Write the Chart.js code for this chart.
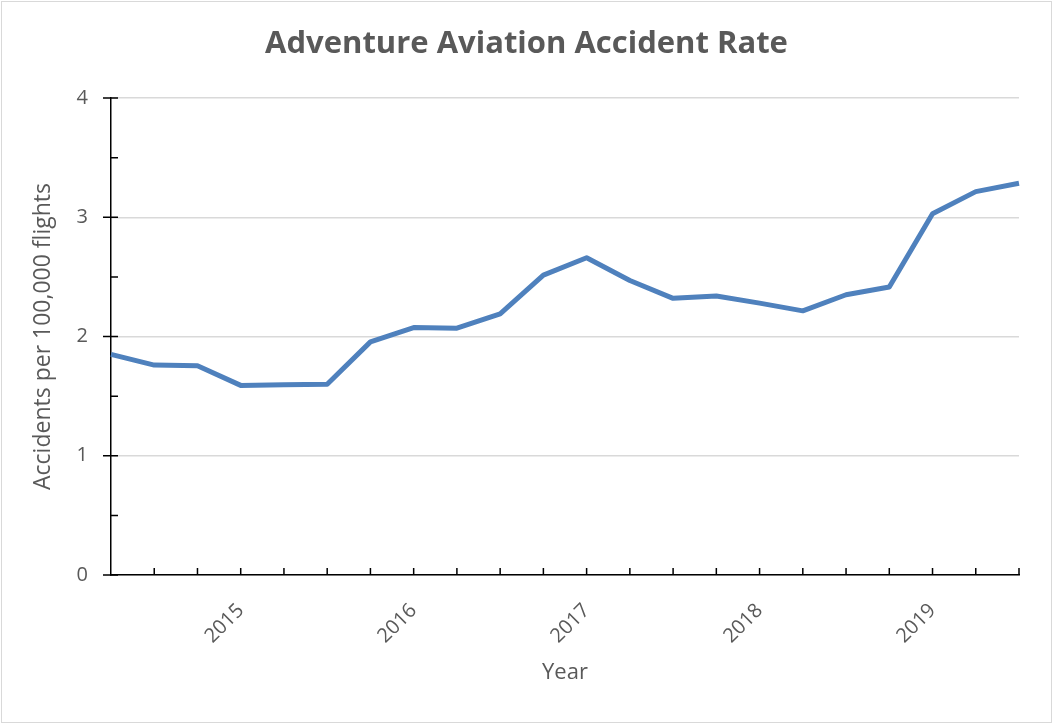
<!DOCTYPE html>
<html>
<head>
<meta charset="utf-8">
<script src="https://cdn.jsdelivr.net/npm/chart.js@4/dist/chart.umd.min.js"></script>
<style>
  html, body { margin: 0; padding: 0; background: #fff; }
  #wrap { width: 1053px; height: 724px; }
</style>
</head>
<body>
<div id="wrap"><canvas id="lineChart" width="1053" height="724"></canvas></div>
<script>
// Quarterly data, 2014 Q2 to 2019 Q3
const quarters = [
  "2014 Q2", "2014 Q3", "2014 Q4",
  "2015 Q1", "2015 Q2", "2015 Q3", "2015 Q4",
  "2016 Q1", "2016 Q2", "2016 Q3", "2016 Q4",
  "2017 Q1", "2017 Q2", "2017 Q3", "2017 Q4",
  "2018 Q1", "2018 Q2", "2018 Q3", "2018 Q4",
  "2019 Q1", "2019 Q2", "2019 Q3"
];
const accidentRate = [
  1.85, 1.76, 1.755,
  1.59, 1.595, 1.60, 1.955,
  2.075, 2.07, 2.19, 2.515,
  2.66, 2.47, 2.32, 2.34,
  2.28, 2.215, 2.35, 2.415,
  3.03, 3.215, 3.285
];
const yearTicks = ["2015", "2016", "2017", "2018", "2019"];
const yTicks = [0, 1, 2, 3, 4];

const grey = "#595959";
const font = "'Open Sans', sans-serif";

// tick marks like Excel: x ticks inside, y major ticks cross, minor inside
const tickMarks = {
  id: "tickMarks",
  afterDraw(chart) {
    const c = chart.ctx;
    const x = chart.scales.x;
    const y = chart.scales.y;
    const area = chart.chartArea;
    c.save();
    c.strokeStyle = "#000";
    c.lineWidth = 1.5;
    c.beginPath();
    for (let i = 1; i < quarters.length; i++) {
      const px = x.getPixelForTick(i);
      c.moveTo(px, area.bottom);
      c.lineTo(px, area.bottom - 7);
    }
    for (let v = 0; v <= 4; v += 0.5) {
      const py = y.getPixelForValue(v);
      const major = yTicks.includes(v);
      c.moveTo(area.left - (major ? 8 : 0), py);
      c.lineTo(area.left + 7, py);
    }
    c.stroke();
    c.restore();
  }
};

// light outer frame
const frame = {
  id: "frame",
  beforeDraw(chart) {
    const c = chart.ctx;
    c.save();
    c.fillStyle = "#fff";
    c.fillRect(0, 0, chart.width, chart.height);
    c.strokeStyle = "#d9d9d9";
    c.lineWidth = 1;
    c.strokeRect(1.5, 1.5, chart.width - 3, chart.height - 3);
    c.restore();
  }
};

const ctx = document.getElementById("lineChart");

new Chart(ctx, {
  type: "line",
  data: {
    labels: quarters,
    datasets: [{
      data: accidentRate,
      borderColor: "#4f81bd",
      borderWidth: 5,
      pointRadius: 0,
      tension: 0,
      borderJoinStyle: "round",
      borderCapStyle: "butt"
    }]
  },
  options: {
    responsive: false,
    animation: false,
    layout: { padding: 0 },
    plugins: {
      legend: { display: false },
      tooltip: { enabled: false },
      title: {
        display: true,
        text: "Adventure Aviation Accident Rate",
        color: grey,
        font: { family: font, size: 31, weight: "bold", lineHeight: 1.2 },
        padding: { top: 26, bottom: 34.8 }
      }
    },
    scales: {
      x: {
        offset: false,
        grid: { display: false },
        border: { display: true, color: "#000", width: 1.5 },
        afterFit(scale) { scale.height = 149; },
        ticks: {
          autoSkip: false,
          minRotation: 45,
          maxRotation: 45,
          padding: 16,
          color: grey,
          font: { family: font, size: 20 },
          callback(value, i) {
            const yr = quarters[i].slice(0, 4);
            return quarters[i].endsWith("Q1") && yearTicks.includes(yr) ? yr : "";
          }
        },
        title: {
          display: true,
          text: "Year",
          color: grey,
          font: { family: font, size: 22, lineHeight: 1.2 },
          padding: { top: 0, bottom: 38 }
        }
      },
      y: {
        min: 0,
        max: 4,
        afterFit(scale) { scale.width = 111; },
        grid: { color: "#d9d9d9", lineWidth: 1.5, drawTicks: false },
        border: { display: true, color: "#000", width: 1.5 },
        ticks: {
          stepSize: 1,
          padding: 23,
          color: grey,
          font: { family: font, size: 20 },
          callback(value) { return yTicks.includes(value) ? String(value) : ""; }
        },
        title: {
          display: true,
          text: "Accidents per 100,000 flights",
          color: grey,
          font: { family: font, size: 23, lineHeight: 1.2 },
          padding: { top: 30, bottom: 0 }
        }
      },
      // empty right-hand space so the title stays centred on the full width
      spacer: {
        type: "linear",
        position: "right",
        display: true,
        grid: { display: false },
        border: { display: false },
        ticks: { display: false },
        afterFit(scale) { scale.width = 34; }
      }
    }
  },
  plugins: [frame, tickMarks]
});
</script>
</body>
</html>
